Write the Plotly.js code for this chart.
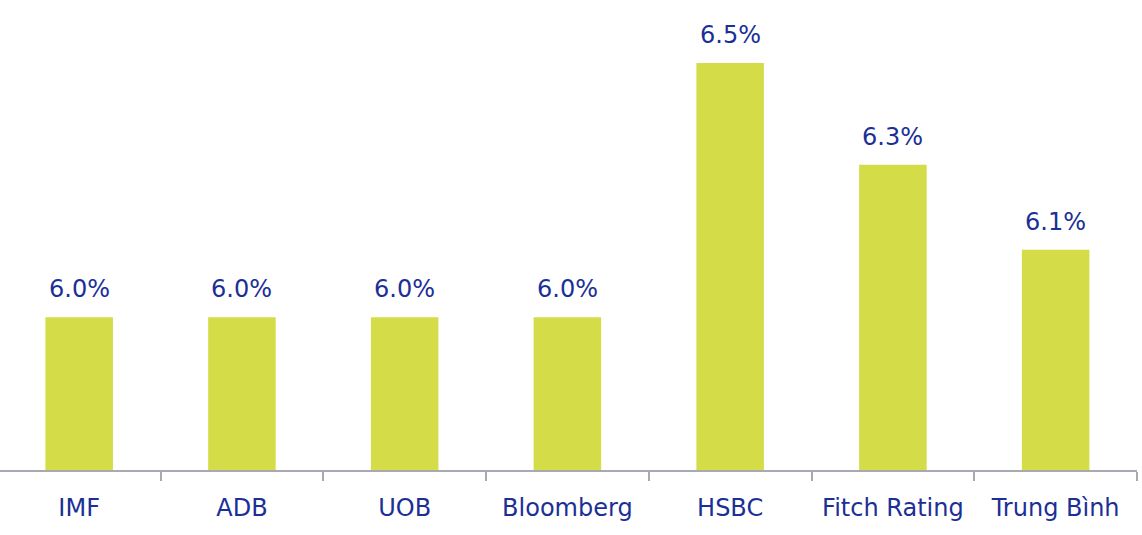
<!DOCTYPE html>
<html>
<head>
<meta charset="utf-8">
<script src="https://cdn.plot.ly/plotly-3.0.1.min.js"></script>
<style>html,body{margin:0;padding:0;background:#fff;}#chart{width:1142px;height:535px;}</style>
</head>
<body>
<div id="chart"></div>
<script>
const categories = ["IMF", "ADB", "UOB", "Bloomberg", "HSBC", "Fitch Rating", "Trung Bình"];
const values = [6.0, 6.0, 6.0, 6.0, 6.5, 6.3, 6.133];
const valueLabels = ["6.0%", "6.0%", "6.0%", "6.0%", "6.5%", "6.3%", "6.1%"];

const textColor = "#1b2f96";
const fontFam = "'DejaVu Sans', 'Noto Sans', sans-serif";

const trace = {
  type: "bar",
  x: categories,
  y: values,
  marker: {color: "#d4dc48"},
  hoverinfo: "skip"
};

const annotations = categories.map((c, i) => ({
  x: c, y: values[i], xref: "x", yref: "y",
  text: valueLabels[i], showarrow: false,
  yanchor: "bottom", yshift: 12,
  font: {family: fontFam, size: 24, color: textColor}
}));

const layout = {
  width: 1142, height: 535,
  margin: {l: 0, r: 5, t: 12, b: 65},
  paper_bgcolor: "#fff", plot_bgcolor: "#fff",
  bargap: 0.585,
  showlegend: false,
  xaxis: {
    type: "category",
    range: [-0.4865, 6.5],
    showline: true, linecolor: "#a9a9b1", linewidth: 2,
    ticks: "outside", tickson: "boundaries", ticklen: 9, tickwidth: 2, tickcolor: "#a9a9b1",
    tickfont: {family: fontFam, size: 24, color: textColor},
    ticklabelstandoff: 15,
    showgrid: false, zeroline: false
  },
  yaxis: {
    range: [5.7, 6.6],
    visible: false, showgrid: false, zeroline: false
  },
  annotations: annotations
};

Plotly.newPlot("chart", [trace], layout, {staticPlot: true, displayModeBar: false});
</script>
</body>
</html>
